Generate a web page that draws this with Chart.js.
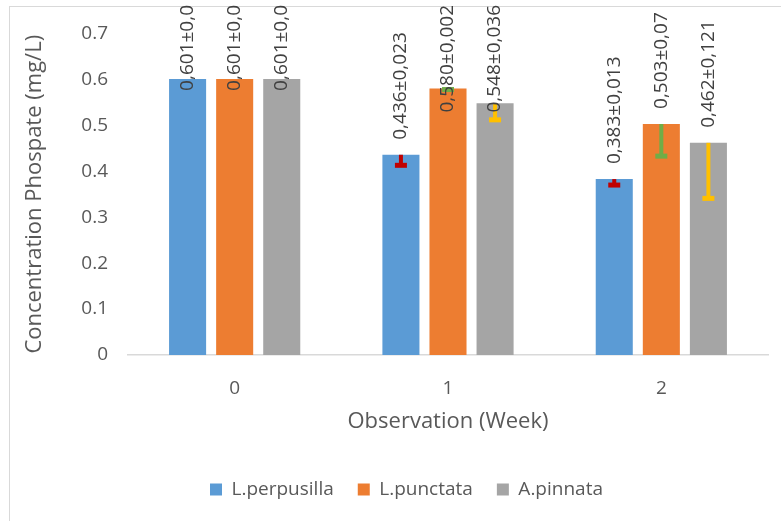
<!DOCTYPE html>
<html>
<head>
<meta charset="utf-8">
<script src="https://cdn.jsdelivr.net/npm/chart.js@4.4.0/dist/chart.umd.min.js"></script>
<style>
  html, body { margin: 0; padding: 0; background: #fff; }
  #wrap { width: 781px; height: 521px; }
</style>
</head>
<body>
<div id="wrap"><canvas id="phosChart" width="781" height="521"></canvas></div>
<script>
// Weeks of observation
const weeks = ['0', '1', '2'];

// Mean phosphate concentration (mg/L) per species
const perpusilla = [0.601, 0.436, 0.383];
const punctata = [0.601, 0.580, 0.503];
const pinnata = [0.601, 0.548, 0.462];

// Standard deviations (drawn as minus error bars)
const perpusillaErr = [0, 0.023, 0.013];
const punctataErr = [0, 0.002, 0.07];
const pinnataErr = [0, 0.036, 0.121];

// Data label text as shown on the chart
const perpusillaLbl = ['0,601±0,0', '0,436±0,023', '0,383±0,013'];
const punctataLbl = ['0,601±0,0', '0,580±0,002', '0,503±0,07'];
const pinnataLbl = ['0,601±0,0', '0,548±0,036', '0,462±0,121'];

const yTicks = [0, 0.1, 0.2, 0.3, 0.4, 0.5, 0.6, 0.7];

const FONT = "'Open Sans', 'Noto Sans', sans-serif";
const TEXT = '#595959';

// Frame around the chart + white background
const framePlugin = {
  id: 'frame',
  beforeDraw(chart) {
    const ctx = chart.ctx;
    ctx.save();
    ctx.fillStyle = '#fff';
    ctx.fillRect(0, 0, chart.width, chart.height);
    ctx.strokeStyle = '#D9D9D9';
    ctx.lineWidth = 1;
    ctx.strokeRect(9.5, 6.5, chart.width + 20, chart.height + 20);
    ctx.restore();
  }
};

// nudge the legend a bit to the right, like the original
const legendShift = {
  id: 'legendShift',
  afterLayout(chart) {
    chart.legend.left += 18;
    chart.legend.right += 18;
  }
};

// Minus error bars and rotated value labels
const errLabelPlugin = {
  id: 'errLabels',
  afterDatasetsDraw(chart) {
    const ctx = chart.ctx;
    const yScale = chart.scales.y;
    chart.data.datasets.forEach((ds, i) => {
      const meta = chart.getDatasetMeta(i);
      meta.data.forEach((bar, j) => {
        const err = ds.errors[j];
        if (err > 0) {
          const yTop = yScale.getPixelForValue(ds.data[j]);
          const yEnd = yScale.getPixelForValue(ds.data[j] - err);
          ctx.save();
          ctx.strokeStyle = ds.errColor;
          ctx.lineWidth = 4;
          ctx.beginPath();
          ctx.moveTo(bar.x, yTop);
          ctx.lineTo(bar.x, yEnd);
          ctx.stroke();
          ctx.lineWidth = 5;
          ctx.beginPath();
          ctx.moveTo(bar.x - 6, yEnd);
          ctx.lineTo(bar.x + 6, yEnd);
          ctx.stroke();
          ctx.restore();
        }
      });
    });
    chart.data.datasets.forEach((ds, i) => {
      const meta = chart.getDatasetMeta(i);
      meta.data.forEach((bar, j) => {
        const txt = ds.labels[j];
        ctx.save();
        ctx.font = '19px ' + FONT;
        ctx.fillStyle = '#404040';
        const w = ctx.measureText(txt).width;
        const start = Math.max(bar.y - 15, w + 5);
        ctx.translate(bar.x, start);
        ctx.rotate(-Math.PI / 2);
        ctx.textAlign = 'left';
        ctx.textBaseline = 'middle';
        ctx.fillText(txt, 0, 0);
        ctx.restore();
      });
    });
  }
};

new Chart(document.getElementById('phosChart'), {
  type: 'bar',
  data: {
    labels: weeks,
    datasets: [
      { label: 'L.perpusilla', data: perpusilla, errors: perpusillaErr, labels: perpusillaLbl,
        errColor: '#C00000', backgroundColor: '#5B9BD5' },
      { label: 'L.punctata', data: punctata, errors: punctataErr, labels: punctataLbl,
        errColor: '#70AD47', backgroundColor: '#ED7D31' },
      { label: 'A.pinnata', data: pinnata, errors: pinnataErr, labels: pinnataLbl,
        errColor: '#FFC000', backgroundColor: '#A5A5A5' }
    ]
  },
  options: {
    responsive: false,
    animation: false,
    categoryPercentage: 0.662,
    barPercentage: 0.787,
    layout: { padding: { left: 9, top: 33.5, right: 13, bottom: 12 } },
    plugins: {
      legend: {
        position: 'bottom',
        labels: {
          boxWidth: 12, boxHeight: 12, padding: 24,
          color: TEXT, font: { family: FONT, size: 19 }
        }
      },
      tooltip: { enabled: false }
    },
    scales: {
      x: {
        grid: { display: false, drawTicks: false },
        border: { color: '#D9D9D9', width: 1.5 },
        ticks: { color: TEXT, padding: 22, font: { family: FONT, size: 19 } },
        title: {
          display: true, text: 'Observation (Week)', color: TEXT,
          font: { family: FONT, size: 22 }, padding: { top: 0, bottom: 21 }
        },
        afterFit(scale) { scale.height = 101; }
      },
      y: {
        min: 0, max: 0.7,
        afterBuildTicks(scale) { scale.ticks = yTicks.map(v => ({ value: v })); },
        grid: { display: false, drawTicks: false },
        border: { display: false },
        ticks: {
          color: TEXT, padding: 20, font: { family: FONT, size: 19 },
          callback: v => String(v)
        },
        title: {
          display: true, text: 'Concentration Phospate (mg/L)', color: TEXT,
          font: { family: FONT, size: 22 }, padding: { top: 13, bottom: 0 }
        },
        afterFit(scale) { scale.width = 119; }
      }
    }
  },
  plugins: [framePlugin, legendShift, errLabelPlugin]
});
</script>
</body>
</html>
